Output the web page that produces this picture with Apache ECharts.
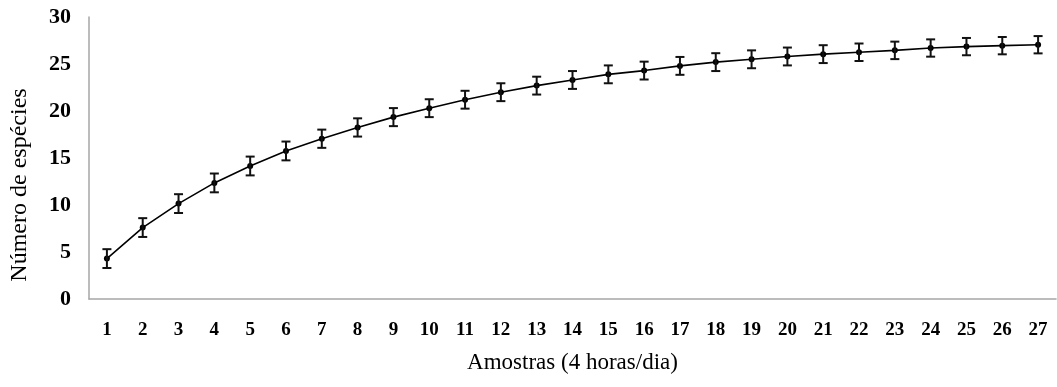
<!DOCTYPE html>
<html>
<head>
<meta charset="utf-8">
<script src="https://cdn.jsdelivr.net/npm/echarts@6/dist/echarts.min.js"></script>
<style>
html,body{margin:0;padding:0;background:#fff;}
#chart{width:1057px;height:387px;}
</style>
</head>
<body>
<div id="chart"></div>
<script>
const categories = ['1','2','3','4','5','6','7','8','9','10','11','12','13','14','15','16','17','18','19','20','21','22','23','24','25','26','27'];
const means = [4.3, 7.6, 10.15, 12.35, 14.15, 15.75, 17.05, 18.25, 19.35, 20.3, 21.2, 22.0, 22.7, 23.3, 23.9, 24.3, 24.8, 25.2, 25.5, 25.8, 26.05, 26.25, 26.45, 26.7, 26.85, 26.95, 27.05];
const errors = [1.0, 1.0, 1.0, 1.0, 1.0, 1.0, 0.97, 0.97, 0.96, 0.95, 0.95, 0.95, 0.95, 0.95, 0.95, 0.95, 0.95, 0.95, 0.95, 0.95, 0.95, 0.93, 0.93, 0.92, 0.92, 0.92, 0.92];
const yTicks = [0, 5, 10, 15, 20, 25, 30];

const errData = means.map((m, i) => [i, m - errors[i], m + errors[i]]);

const chart = echarts.init(document.getElementById('chart'));
chart.setOption({
  animation: false,
  backgroundColor: '#ffffff',
  grid: { left: 89, right: 1, top: 17, bottom: 88, containLabel: false, outerBoundsMode: 'none' },
  xAxis: {
    type: 'category',
    data: categories,
    boundaryGap: true,
    name: 'Amostras (4 horas/dia)',
    nameLocation: 'middle',
    nameGap: 52,
    nameTextStyle: { fontFamily: 'Liberation Serif', fontSize: 23, color: '#000' },
    axisLine: { lineStyle: { color: '#a6a6a6', width: 1.5 } },
    axisTick: { show: false },
    axisLabel: { fontFamily: 'Liberation Serif', fontWeight: 'bold', fontSize: 19, color: '#000', margin: 22 }
  },
  yAxis: {
    type: 'value',
    min: yTicks[0],
    max: yTicks[yTicks.length - 1],
    interval: 5,
    name: 'Número de espécies',
    nameLocation: 'middle',
    nameGap: 57,
    nameTextStyle: { fontFamily: 'Liberation Serif', fontSize: 24, color: '#000', padding: [0, 54, 0, 0] },
    axisLine: { show: true, lineStyle: { color: '#a6a6a6', width: 1.5 } },
    axisTick: { show: false },
    splitLine: { show: false },
    axisLabel: { fontFamily: 'Liberation Serif', fontWeight: 'bold', fontSize: 22, color: '#000', margin: 18 }
  },
  series: [
    {
      type: 'line',
      data: means,
      symbol: 'circle',
      symbolSize: 6,
      itemStyle: { color: '#000' },
      lineStyle: { color: '#000', width: 1.6 },
      z: 3
    },
    {
      type: 'custom',
      data: errData,
      z: 4,
      renderItem: function (params, api) {
        const x = api.value(0);
        const lo = api.coord([x, api.value(1)]);
        const hi = api.coord([x, api.value(2)]);
        const hw = 4.5;
        const st = { stroke: '#111', lineWidth: 2 };
        return {
          type: 'group',
          children: [
            { type: 'line', shape: { x1: lo[0], y1: lo[1], x2: hi[0], y2: hi[1] }, style: st },
            { type: 'line', shape: { x1: lo[0] - hw, y1: lo[1], x2: lo[0] + hw, y2: lo[1] }, style: st },
            { type: 'line', shape: { x1: hi[0] - hw, y1: hi[1], x2: hi[0] + hw, y2: hi[1] }, style: st }
          ]
        };
      }
    }
  ]
});
</script>
</body>
</html>
